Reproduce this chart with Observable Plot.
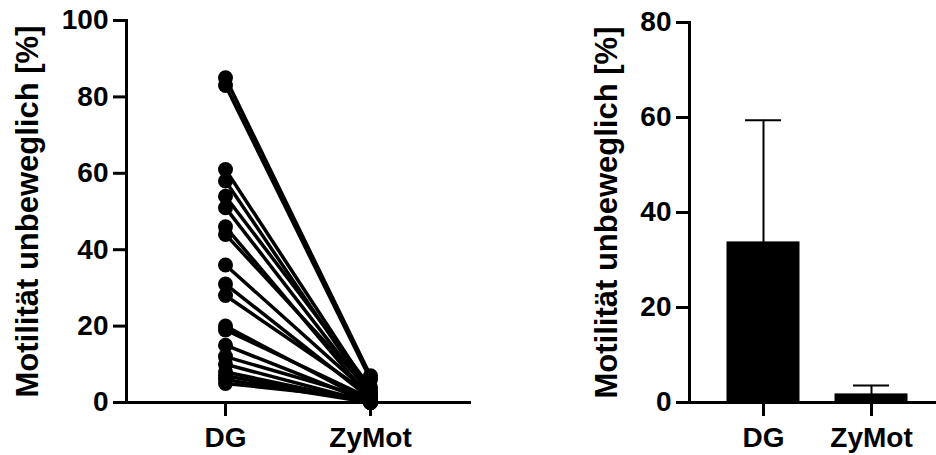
<!DOCTYPE html>
<html>
<head>
<meta charset="utf-8">
<script src="https://cdn.jsdelivr.net/npm/d3@7"></script>
<script src="https://cdn.jsdelivr.net/npm/@observablehq/plot@0.6"></script>
<style>
  html, body { margin: 0; padding: 0; background: #fff; }
  #wrap { position: relative; width: 936px; height: 455px; overflow: hidden; }
  #left { position: absolute; left: 0; top: 0; }
  #right { position: absolute; left: 560px; top: 0; }
</style>
</head>
<body>
<div id="wrap"><div id="left"></div><div id="right"></div></div>
<script>
// ---- Data ----
const groups = ["DG", "ZyMot"];
const yTitle = "Motilität unbeweglich [%]";
// paired values (left panel)
const dgValues    = [85, 83, 61, 58, 54, 51, 46, 44, 36, 31, 28, 20, 19, 15, 12, 10, 8, 7, 6, 5];
const zymotValues = [7, 6, 3, 2, 4, 2, 1, 3, 2, 1, 2, 0, 1, 0, 1, 0, 0, 0, 0, 1];
const leftTicks = [0, 20, 40, 60, 80, 100];
// bar panel (mean + SD)
const barMeans = [33.7, 1.7];
const barSD = [25.7, 1.9];
const rightTicks = [0, 20, 40, 60, 80];

const pairs = dgValues.map((d, i) => ({a: d, b: zymotValues[i]}));
const dots = [
  ...dgValues.map(v => ({g: groups[0], v})),
  ...zymotValues.map(v => ({g: groups[1], v}))
];
const bars = groups.map((g, i) => ({g, m: barMeans[i], top: barMeans[i] + barSD[i]}));

const font = "'Liberation Sans', Arial, Helvetica, sans-serif";
const style = {fontFamily: font, fontSize: "28px", fontWeight: "bold", color: "#000", background: "#fff", overflow: "visible"};

const left = Plot.plot({
  width: 480, height: 455,
  marginLeft: 126, marginRight: 11, marginTop: 20, marginBottom: 53,
  style,
  x: {type: "point", domain: groups, padding: 0.675},
  y: {domain: [0, 100]},
  marks: [
    Plot.link(pairs, {x1: () => groups[0], x2: () => groups[1], y1: "a", y2: "b", stroke: "#000", strokeWidth: 3.5}),
    Plot.dot(dots, {x: "g", y: "v", r: 7.5, fill: "#000", stroke: "none"}),
    Plot.frame({anchor: "left", stroke: "#000", strokeWidth: 3}),
    Plot.frame({anchor: "bottom", stroke: "#000", strokeWidth: 3}),
    Plot.axisY({ticks: leftTicks, tickSize: 13, tickPadding: 5, strokeWidth: 3, label: null}),
    Plot.axisX({tickSize: 14, tickPadding: 11, strokeWidth: 3, label: null}),
    Plot.text([yTitle], {frameAnchor: "left", dx: -98, rotate: -90, text: d => d, fontSize: 31, fontWeight: "bold", fill: "#000", textAnchor: "middle"})
  ]
});
document.getElementById("left").appendChild(left);

const right = Plot.plot({
  width: 376, height: 455,
  marginLeft: 129, marginRight: 0, marginTop: 22, marginBottom: 53,
  style,
  x: {type: "band", domain: groups, paddingInner: 0.336, paddingOuter: 0.306, align: 0.57},
  y: {domain: [0, 80]},
  marks: [
    Plot.ruleX(bars, {x: "g", y1: "m", y2: "top", stroke: "#000", strokeWidth: 2}),
    Plot.tickY(bars, {x: "g", y: "top", stroke: "#000", strokeWidth: 2, insetLeft: 18, insetRight: 18}),
    Plot.barY(bars, {x: "g", y: "m", fill: "#000", stroke: "#000", strokeWidth: 1}),
    Plot.frame({anchor: "left", stroke: "#000", strokeWidth: 3}),
    Plot.frame({anchor: "bottom", stroke: "#000", strokeWidth: 3}),
    Plot.axisY({ticks: rightTicks, tickSize: 13, tickPadding: 5, strokeWidth: 3, label: null}),
    Plot.axisX({tickSize: 14, tickPadding: 11, strokeWidth: 3, label: null}),
    Plot.text([yTitle], {frameAnchor: "left", dx: -82, rotate: -90, text: d => d, fontSize: 31, fontWeight: "bold", fill: "#000", textAnchor: "middle"})
  ]
});
document.getElementById("right").appendChild(right);
</script>
</body>
</html>
